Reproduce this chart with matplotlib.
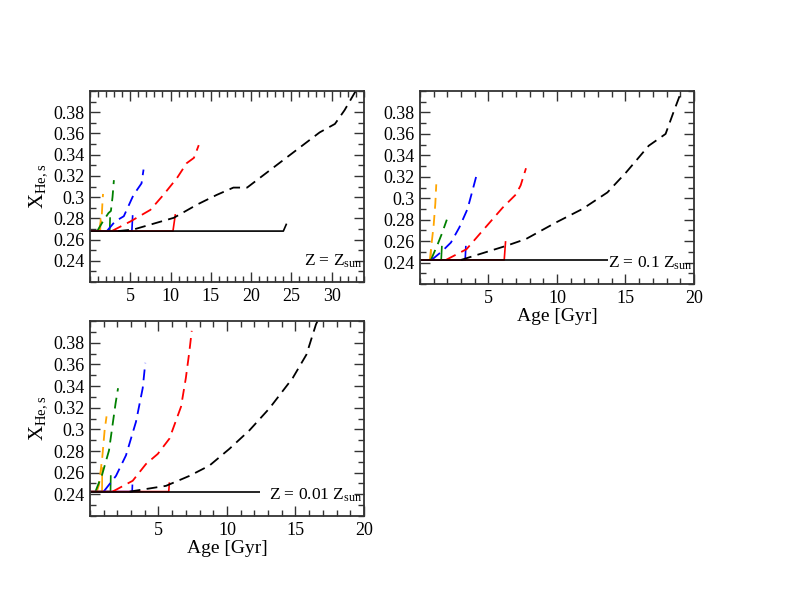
import matplotlib
matplotlib.use("Agg")
import matplotlib.pyplot as plt
from matplotlib.ticker import MultipleLocator, FuncFormatter

plt.rcParams['font.family'] = ['Liberation Serif', 'DejaVu Serif']
plt.rcParams['mathtext.fontset'] = 'custom'
plt.rcParams['mathtext.rm'] = 'Liberation Serif'
plt.rcParams['mathtext.it'] = 'Liberation Serif:italic'

colors = ["orange", "green", "blue", "red", "black"]

# Z = Z_sun
base1 = 0.268
solid1_age = [[0, 1.28, 1.32], [0, 2.45, 2.5], [0, 5.2, 5.3], [0, 10.3, 10.6], [0, 24.0, 24.4]]
solid1_x = [[base1, base1, 0.280], [base1, base1, 0.281], [base1, base1, 0.283],
            [base1, base1, 0.284], [base1, base1, 0.275]]
dash1_age = [[1.1, 1.45, 1.55, 1.62],
             [0.9, 1.6, 2.3, 2.6, 2.8, 2.97],
             [2.1, 3.1, 4.2, 5.4, 6.4, 6.65],
             [2.7, 5.0, 7.5, 9.1, 10.8, 12.0, 12.9, 13.5],
             [3.5, 5.4, 10.4, 13.3, 15.7, 17.8, 19.5, 24.0, 28.5, 30.4, 31.6, 32.9, 33.5]]
dash1_x = [[0.268, 0.280, 0.295, 0.303],
           [0.268, 0.277, 0.285, 0.287, 0.300, 0.316],
           [0.268, 0.277, 0.282, 0.302, 0.313, 0.326],
           [0.268, 0.277, 0.288, 0.302, 0.318, 0.332, 0.337, 0.349],
           [0.268, 0.2695, 0.2805, 0.293, 0.302, 0.309, 0.309, 0.335, 0.361, 0.369, 0.382, 0.399, 0.41]]

# Z = 0.1 Z_sun
base2 = 0.2425
solid2_age = [[0, 0.78, 0.8], [0, 1.55, 1.6], [0, 3.3, 3.35], [0, 6.15, 6.25], [0, 13.7]]
solid2_x = [[base2, base2, 0.252], [base2, base2, 0.2556], [base2, base2, 0.2556],
            [base2, base2, 0.260], [base2, base2]]
dash2_age = [[0.72, 0.85, 1.0, 1.12, 1.19],
             [0.8, 1.29, 1.6, 1.96],
             [0.85, 1.65, 2.26, 2.87, 3.47, 3.83, 4.15],
             [1.9, 3.4, 4.35, 6.04, 7.0, 7.35, 7.74],
             [3.0, 6.29, 7.74, 9.93, 11.86, 13.68, 15.04, 16.7, 17.93, 18.5, 19.0, 19.1]]
dash2_x = [[0.2425, 0.258, 0.275, 0.295, 0.313],
           [0.2425, 0.257, 0.267, 0.280],
           [0.2425, 0.251, 0.2587, 0.2727, 0.290, 0.307, 0.3225],
           [0.2425, 0.2525, 0.2665, 0.2913, 0.3035, 0.312, 0.328],
           [0.2425, 0.2556, 0.262, 0.2774, 0.290, 0.3054, 0.324, 0.349, 0.360, 0.380, 0.397, 0.402]]

# Z = 0.01 Z_sun
base3 = 0.2425
solid3_age = [[0, 0.88, 0.9], [0, 1.5, 1.52], [0, 3.08, 3.1], [0, 5.75, 5.8], [0, 12.38]]
solid3_x = [[base3, base3, 0.265], [base3, base3, 0.2576], [base3, base3, 0.249],
            [base3, base3, 0.251], [base3, base3]]
dash3_age = [[0.5, 0.66, 0.9, 1.07, 1.21],
             [0.4, 0.9, 1.39, 1.63, 1.87, 2.05],
             [1.0, 1.9, 2.63, 3.36, 3.85, 4.04],
             [1.65, 3.12, 4.09, 4.95, 5.8, 6.65, 7.0, 7.26, 7.43],
             [2.9, 5.55, 7.26, 8.72, 10.18, 11.65, 13.1, 14.8, 15.8, 16.5, 16.8]]
dash3_x = [[0.2425, 0.2487, 0.2743, 0.299, 0.312],
           [0.2425, 0.2587, 0.2805, 0.3023, 0.324, 0.338],
           [0.2425, 0.257, 0.276, 0.307, 0.338, 0.3614],
           [0.2425, 0.2525, 0.268, 0.2773, 0.2914, 0.321, 0.3474, 0.3723, 0.391],
           [0.2425, 0.2478, 0.257, 0.2665, 0.282, 0.2992, 0.3194, 0.3474, 0.369, 0.397, 0.405]]

yticks = [0.24, 0.26, 0.28, 0.3, 0.32, 0.34, 0.36, 0.38]

fig = plt.figure(figsize=(7.85, 6.07), dpi=100)
ax1 = fig.add_axes([0.1146, 0.5354, 0.349, 0.3146])
ax2 = fig.add_axes([0.535, 0.5321, 0.349, 0.3179])
ax3 = fig.add_axes([0.1146, 0.150, 0.349, 0.321])

panels = [
    (ax1, solid1_age, solid1_x, dash1_age, dash1_x, 34, [5, 10, 15, 20, 25, 30], r'Z = Z$_{\mathrm{sun}}$'),
    (ax2, solid2_age, solid2_x, dash2_age, dash2_x, 20, [5, 10, 15, 20], r'Z = 0.1 Z$_{\mathrm{sun}}$'),
    (ax3, solid3_age, solid3_x, dash3_age, dash3_x, 20, [5, 10, 15, 20], r'Z = 0.01 Z$_{\mathrm{sun}}$'),
]

for ax, s_age, s_x, d_age, d_x, xmax, xt, label in panels:
    for i in range(len(colors)):
        ax.plot(s_age[i], s_x[i], color=colors[i], linewidth=1.2, solid_capstyle='butt')
        ax.plot(d_age[i], d_x[i], color=colors[i], linewidth=1.3, linestyle=(0, (6, 3.5)))
    ax.set_xlim(0, xmax)
    ax.set_ylim(0.22, 0.40)
    ax.set_xticks(xt)
    ax.set_yticks(yticks)
    ax.xaxis.set_minor_locator(MultipleLocator(1))
    ax.yaxis.set_minor_locator(MultipleLocator(0.01))
    ax.yaxis.set_major_formatter(FuncFormatter(lambda v, p: '%g' % round(v, 3)))
    ax.tick_params(which='both', direction='in', top=True, right=True, labelsize=13,
                   width=1.0, color='#333333', pad=4)
    ax.tick_params(which='major', length=7)
    ax.tick_params(which='minor', length=4)
    for sp in ax.spines.values():
        sp.set_linewidth(1.3)
        sp.set_color('#333333')
    ax.text(0.995, 0.085, label, transform=ax.transAxes, ha='right', va='baseline', fontsize=12.5)

ax1.set_ylabel(r'X$_{\mathrm{He,s}}$', fontsize=15, labelpad=3)
ax3.set_ylabel(r'X$_{\mathrm{He,s}}$', fontsize=15, labelpad=3)
ax2.set_xlabel('Age [Gyr]', fontsize=14, labelpad=1)
ax3.set_xlabel('Age [Gyr]', fontsize=14, labelpad=1)

plt.savefig("out.png", dpi=100)
